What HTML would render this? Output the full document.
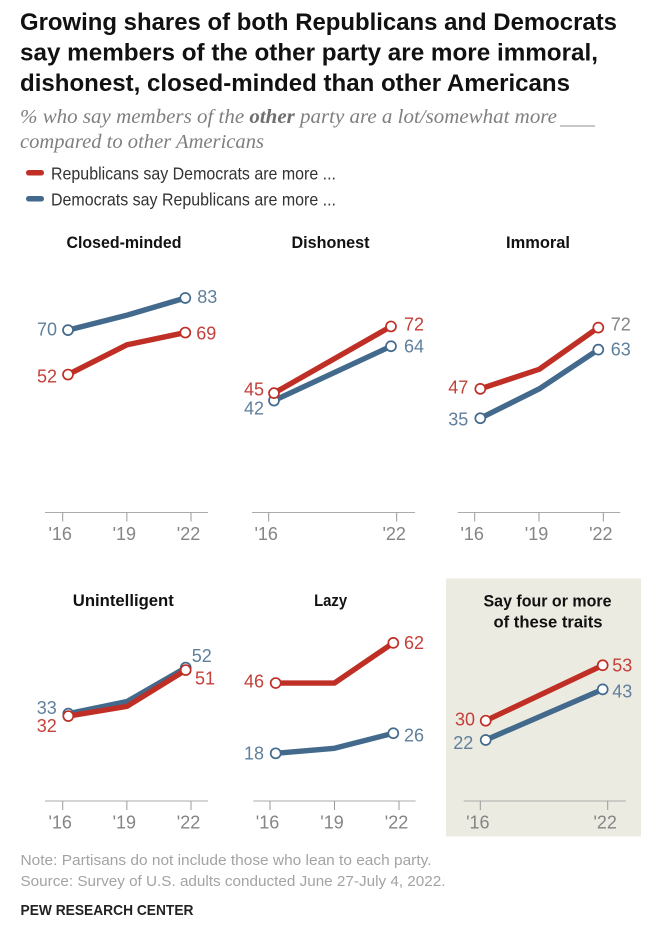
<!DOCTYPE html>
<html lang="en">
<head>
<meta charset="utf-8">
<title>Growing shares of both Republicans and Democrats</title>
<style>
html,body{margin:0;padding:0;background:#fff;}
svg{display:block;font-family:"Liberation Sans",sans-serif;filter:blur(0.3px);}
</style>
</head>
<body>
<svg id="chart" xmlns="http://www.w3.org/2000/svg" width="663" height="929" viewBox="0 0 663 929">
  <rect width="663" height="929" fill="#fff"/>
  <g font-weight="700" font-size="24.5" fill="#111">
    <text x="20" y="30" textLength="597" lengthAdjust="spacingAndGlyphs">Growing shares of both Republicans and Democrats</text>
    <text x="20" y="60.5" textLength="578" lengthAdjust="spacingAndGlyphs">say members of the other party are more immoral,</text>
    <text x="20" y="91" textLength="550" lengthAdjust="spacingAndGlyphs">dishonest, closed-minded than other Americans</text>
  </g>
  <g font-family="'Liberation Serif',serif" font-style="italic" font-size="19.5" fill="#7f7f7f">
    <text x="20" y="123" textLength="537" lengthAdjust="spacingAndGlyphs">% who say members of the <tspan font-weight="700" fill="#6f6f6f">other</tspan> party are a lot/somewhat more</text>
    <line x1="560" x2="595" y1="126" y2="126" stroke="#a8a8a8" stroke-width="1.2"/>
    <text x="20" y="148" textLength="244" lengthAdjust="spacingAndGlyphs">compared to other Americans</text>
  </g>
  <g font-size="17.5" fill="#333">
    <rect x="26" y="170" width="18" height="5.5" rx="2.7" fill="#bf2f25"/>
    <text x="51" y="179.5" textLength="285" lengthAdjust="spacingAndGlyphs">Republicans say Democrats are more ...</text>
    <rect x="26" y="196" width="18" height="5.5" rx="2.7" fill="#436a8c"/>
    <text x="51" y="205.5" textLength="285" lengthAdjust="spacingAndGlyphs">Democrats say Republicans are more ...</text>
  </g>
  <rect x="446" y="578.5" width="195" height="258" fill="#ecebe1"/>
  <g id="panels"></g>
  <g font-size="14.5" fill="#a3a3a3">
    <text x="20.5" y="865" textLength="411" lengthAdjust="spacingAndGlyphs">Note: Partisans do not include those who lean to each party.</text>
    <text x="20.5" y="886" textLength="425" lengthAdjust="spacingAndGlyphs">Source: Survey of U.S. adults conducted June 27-July 4, 2022.</text>
  </g>
  <text x="20.5" y="915" font-size="15" font-weight="700" fill="#222" textLength="173" lengthAdjust="spacingAndGlyphs">PEW RESEARCH CENTER</text>
</svg>
<script>
const threeYears = [2016, 2019, 2022];
const twoYears = [2016, 2022];
const threeTickLabels = ["'16", "'19", "'22"];
const twoTickLabels = ["'16", "'22"];

const closedMindedRepublicans = [52, 64, 69];
const closedMindedDemocrats = [70, 76, 83];
const dishonestRepublicans = [45, 72];
const dishonestDemocrats = [42, 64];
const immoralRepublicans = [47, 55, 72];
const immoralDemocrats = [35, 47, 63];
const unintelligentRepublicans = [32, 36, 51];
const unintelligentDemocrats = [33, 38, 52];
const lazyRepublicans = [46, 46, 62];
const lazyDemocrats = [18, 20, 26];
const fourOrMoreRepublicans = [30, 53];
const fourOrMoreDemocrats = [22, 43];

const RED = '#bf2f25', BLUE = '#436a8c', RED_TEXT = '#c4403a', BLUE_TEXT = '#5f7f9d';
const NS = 'http://www.w3.org/2000/svg';
const root = document.getElementById('panels');

function make(parent, tag, attrs, text) {
  const el = document.createElementNS(NS, tag);
  for (const k in attrs) el.setAttribute(k, attrs[k]);
  if (text !== undefined) el.textContent = text;
  parent.appendChild(el);
  return el;
}

/* panel layout: px = point x-range, tx = tick x-range, ax = axis extent, axisY, y0/k = y scale,
   labels = label offsets [left dx, left dy, right dx, right dy] */
const panels = [
  { id:'closed-minded', titles:[['Closed-minded',124,248,115]], years:threeYears, ticks:threeTickLabels,
    rep:closedMindedRepublicans, dem:closedMindedDemocrats,
    px:[68,185.3], tx:[62.7,191], ax:[45,208], axisY:512.5, y0:503, k:2.47,
    repL:[-11,1.4,11,0.7], demL:[-11,-1,12,-1.3] },
  { id:'dishonest', titles:[['Dishonest',330.5,248,78]], years:twoYears, ticks:twoTickLabels,
    rep:dishonestRepublicans, dem:dishonestDemocrats,
    px:[274,391], tx:[268.7,396.7], ax:[252,415], axisY:512.5, y0:504.3, k:2.47,
    repL:[-10,-3.9,13,-2.2], demL:[-10,7.7,13,0] },
  { id:'immoral', titles:[['Immoral',538,248,64]], years:threeYears, ticks:threeTickLabels,
    rep:immoralRepublicans, dem:immoralDemocrats,
    px:[480.3,598.3], tx:[474.7,603.3], ax:[457.7,620.3], axisY:512.5, y0:504, k:2.45,
    repL:[-12,-1.6,12.4,-3.3], demL:[-12,1,12.4,-0.7], repEndColor:'#858585' },
  { id:'unintelligent', titles:[['Unintelligent',123.3,606,101]], years:threeYears, ticks:threeTickLabels,
    rep:unintelligentRepublicans, dem:unintelligentDemocrats,
    px:[68.3,185.7], tx:[62.7,191], ax:[45,208], axisY:801, y0:793.5, k:2.42,
    repL:[-11.5,9.7,9.3,8.3], demL:[-11.5,-5.9,6,-12] },
  { id:'lazy', titles:[['Lazy',330.6,606,33]], years:threeYears, ticks:threeTickLabels,
    rep:lazyRepublicans, dem:lazyDemocrats,
    px:[275.7,393.3], tx:[270,399], ax:[253.3,415.7], axisY:801, y0:798.5, k:2.51,
    repL:[-11.7,-2,10.7,0], demL:[-11.7,0,10.7,2] },
  { id:'four-or-more', titles:[['Say four or more',547.5,606.7,128],['of these traits',548,627.3,109]], years:twoYears, ticks:twoTickLabels,
    rep:fourOrMoreRepublicans, dem:fourOrMoreDemocrats,
    px:[485.7,602.7], tx:[480.3,607.7], ax:[463.7,626], axisY:801, y0:793, k:2.41,
    repL:[-10.7,-1.7,9.6,-0.3], demL:[-12.4,2.7,9.6,2] }
];

function drawSeries(g, p, values, color, textColor, off, xScale, yScale, key) {
  const pts = values.map(function (v, i) { return xScale(p.years[i]) + ',' + yScale(v); }).join(' ');
  const line = make(g, 'polyline', { points: pts, fill: 'none', stroke: color, 'stroke-width': 5.4, 'stroke-linejoin': 'round' });
  
  
  const lastIdx = values.length - 1;
  [0, lastIdx].forEach(function (i) {
    const x = xScale(p.years[i]), y = yScale(values[i]);
    const dot = make(g, 'circle', { cx: x, cy: y, r: 5, fill: '#fff', stroke: color, 'stroke-width': 1.7 });
    
    
    const isLeft = i === 0;
    const dx = isLeft ? off[0] : off[2];
    const dy = isLeft ? off[1] : off[3];
    const fill = (!isLeft && key === 'republicans' && p.repEndColor) ? p.repEndColor : textColor;
    const lab = make(g, 'text', { x: x + dx, y: y + dy + 6.3, 'font-size': 18, fill: fill, 'text-anchor': isLeft ? 'end' : 'start' }, String(values[i]));
    
    
  });
}

panels.forEach(function (p) {
  const g = make(root, 'g', {});
  
  

  const xFirst = p.years[0], xLast = p.years[p.years.length - 1];
  const xScale = function (yr) { return p.px[0] + (yr - xFirst) / (xLast - xFirst) * (p.px[1] - p.px[0]); };
  const tickScale = function (yr) { return p.tx[0] + (yr - xFirst) / (xLast - xFirst) * (p.tx[1] - p.tx[0]); };
  const yScale = function (v) { return p.y0 - v * p.k; };

  p.titles.forEach(function (t) {
    const title = make(g, 'text', { x: t[1], y: t[2], 'font-size': 16.5, 'font-weight': 700, fill: '#111', 'text-anchor': 'middle', textLength: t[3], lengthAdjust: 'spacingAndGlyphs' }, t[0]);
    
    
  });

  const axis = make(g, 'line', { x1: p.ax[0], x2: p.ax[1], y1: p.axisY, y2: p.axisY, stroke: '#ababab', 'stroke-width': 1 });
  
  

  p.years.forEach(function (yr, i) {
    const tx = tickScale(yr);
    const tick = make(g, 'line', { x1: tx, x2: tx, y1: p.axisY, y2: p.axisY + 9, stroke: '#9a9a9a', 'stroke-width': 1 });
    
    
    const lab = make(g, 'text', { x: tx - 2.5, y: p.axisY + 27.5, 'font-size': 18, fill: '#858585', 'text-anchor': 'middle' }, p.ticks[i]);
    
    
  });

  drawSeries(g, p, p.dem, BLUE, BLUE_TEXT, p.demL, xScale, yScale, 'democrats');
  drawSeries(g, p, p.rep, RED, RED_TEXT, p.repL, xScale, yScale, 'republicans');
});
</script>
</body>
</html>
